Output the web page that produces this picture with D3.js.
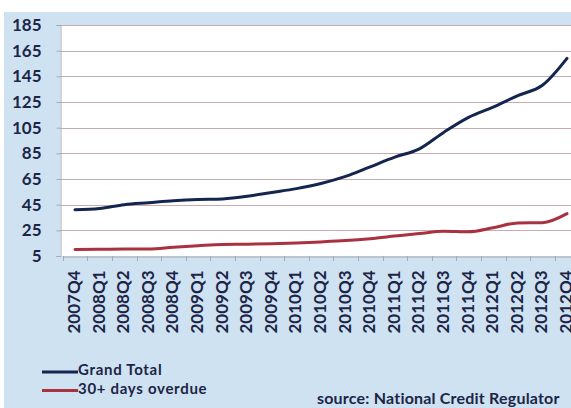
<!DOCTYPE html>
<html>
<head>
<meta charset="utf-8">
<script src="https://cdn.jsdelivr.net/npm/d3@7"></script>
<style>
  html, body { margin: 0; padding: 0; background: #ffffff; overflow: hidden; }
  svg { display: block; }
</style>
</head>
<body>
<svg id="chart" width="571" height="408"></svg>
<script>
// Quarterly credit balances (R billion)
const quarters = [
  "2007Q4","2008Q1","2008Q2","2008Q3","2008Q4",
  "2009Q1","2009Q2","2009Q3","2009Q4",
  "2010Q1","2010Q2","2010Q3","2010Q4",
  "2011Q1","2011Q2","2011Q3","2011Q4",
  "2012Q1","2012Q2","2012Q3","2012Q4"
];
const grandTotal = [
  41, 42, 45, 46.5, 48,
  49, 49.5, 51.5, 54.5,
  57.5, 61.5, 67, 74.5,
  82, 88.5, 101.5, 113,
  121, 130, 138, 159
];
const overdue30 = [
  10, 10.2, 10.5, 10.5, 11.8,
  13, 14, 14.2, 14.6,
  15.2, 16, 17, 18.5,
  20.5, 22.5, 24.3, 23.8,
  27, 30.8, 31, 38
];
const yTicks = [5, 25, 45, 65, 85, 105, 125, 145, 165, 185];
const seriesNames = ["Grand Total", "30+ days overdue"];
const seriesColors = ["#14264f", "#a8323f"];
const sourceText = "source: National Credit Regulator";

const svg = d3.select("#chart");
const W = 571, H = 408;
const font = "Lato, 'Open Sans', sans-serif";
const textColor = "#1c2547";

// chart backdrop
svg.append("rect").attr("x", 4).attr("y", 12).attr("width", W - 4).attr("height", H - 12)
  .attr("fill", "#cfe2f1");

const plot = { left: 60, top: 25, bottom: 256 };
const bandLeft = 62.7, step = 24.6;

const x = d3.scaleBand()
  .domain(quarters)
  .range([bandLeft, bandLeft + step * quarters.length])
  .paddingInner(0).paddingOuter(0);
const y = d3.scaleLinear().domain([5, 185]).range([plot.bottom, plot.top]);

// plot area
svg.append("rect")
  .attr("x", plot.left).attr("y", plot.top)
  .attr("width", W - plot.left + 20).attr("height", plot.bottom - plot.top)
  .attr("fill", "#ffffff");

// horizontal gridlines
svg.append("g").selectAll("line")
  .data(yTicks.filter(v => v !== 5))
  .join("line")
  .attr("x1", plot.left).attr("x2", W + 20)
  .attr("y1", d => Math.round(y(d)) + 0.5).attr("y2", d => Math.round(y(d)) + 0.5)
  .attr("stroke", "#c9a9b2").attr("stroke-width", 1.2);

// y axis
const yAxis = svg.append("g")
  .attr("transform", `translate(${plot.left + 0.5},0)`)
  .call(d3.axisLeft(y).tickValues(yTicks).tickSize(4).tickPadding(15).tickFormat(d3.format("d")));
yAxis.select(".domain").attr("stroke", "#a7a9b0");
yAxis.selectAll(".tick line").attr("stroke", "#a7a9b0");
yAxis.selectAll("text")
  .attr("fill", textColor).attr("font-family", font).attr("font-weight", "bold")
  .attr("font-size", "17px");

// x axis with ticks on category boundaries
const xAxis = svg.append("g")
  .attr("transform", `translate(0,${plot.bottom + 0.5})`)
  .call(d3.axisBottom(x).tickSize(0).tickPadding(0));
xAxis.select(".domain").attr("stroke", "#a7a9b0");
xAxis.selectAll("text")
  .attr("fill", textColor).attr("font-family", font).attr("font-weight", "bold")
  .attr("font-size", "17px")
  .attr("text-anchor", "end")
  .attr("dy", "0.35em")
  .attr("transform", "translate(-1,14) rotate(-90)")
  .attr("x", 0).attr("y", 0);

svg.append("g").selectAll("line")
  .data(quarters)
  .join("line")
  .attr("x1", d => Math.round(x(d)) + 0.5).attr("x2", d => Math.round(x(d)) + 0.5)
  .attr("y1", plot.bottom).attr("y2", plot.bottom + 5)
  .attr("stroke", "#a7a9b0");

// series lines
const line = d3.line()
  .x((d, i) => x(quarters[i]) + x.bandwidth() / 2)
  .y(d => y(d))
  .curve(d3.curveMonotoneX);

[grandTotal, overdue30].forEach((vals, k) => {
  svg.append("path")
    .datum(vals)
    .attr("d", line)
    .attr("fill", "none")
    .attr("stroke", seriesColors[k])
    .attr("stroke-width", 3)
    .attr("stroke-linejoin", "round")
    .attr("stroke-linecap", "round");
});

// legend
const legend = svg.append("g");
seriesNames.forEach((name, k) => {
  const ly = 372 + k * 18.5;
  legend.append("line")
    .attr("x1", 42).attr("x2", 78).attr("y1", ly).attr("y2", ly)
    .attr("stroke", seriesColors[k]).attr("stroke-width", 3);
  legend.append("text")
    .attr("x", 78).attr("y", ly + 3)
    .attr("fill", textColor).attr("font-family", font).attr("font-weight", "bold")
    .attr("font-size", "15px")
    .attr("letter-spacing", "0.7px")
    .text(name);
});

// source note
svg.append("text")
  .attr("x", 317).attr("y", 404)
  .attr("fill", textColor).attr("font-family", font).attr("font-weight", "bold")
  .attr("font-size", "16px")
  .attr("letter-spacing", "0.2px")
  .text(sourceText);
</script>
</body>
</html>
